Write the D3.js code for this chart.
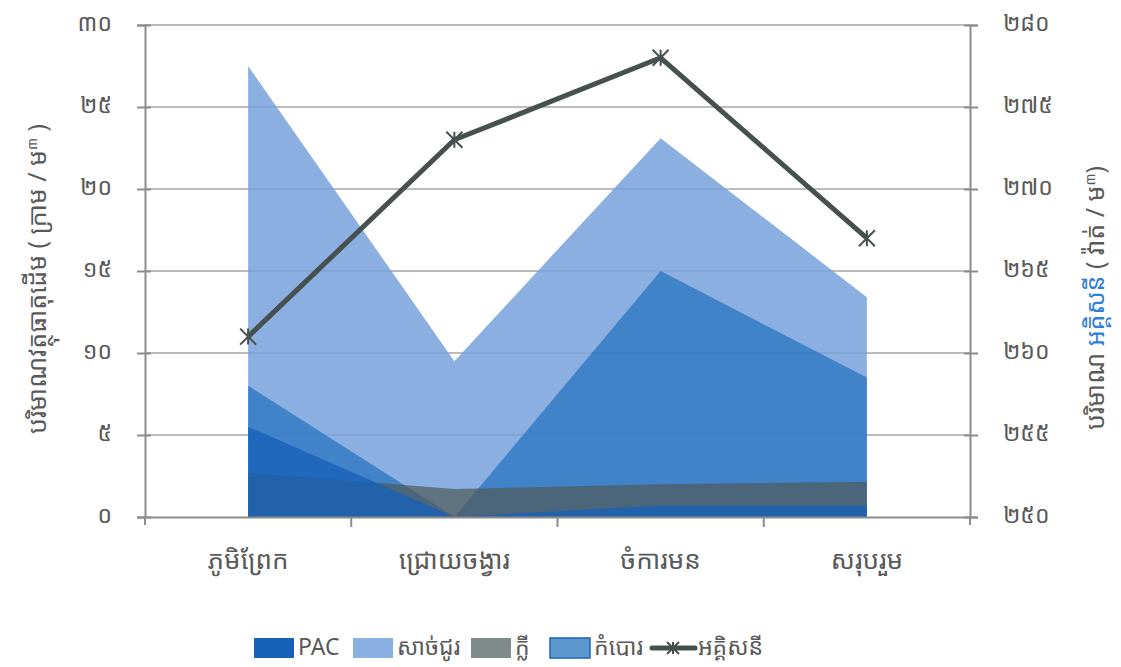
<!DOCTYPE html>
<html>
<head>
<meta charset="utf-8">
<script src="https://cdn.jsdelivr.net/npm/d3@7"></script>
<style>
  body { margin: 0; background: #fff; }
  svg text { font-family: "Noto Sans Khmer", "Khmer OS System", "Noto Sans", sans-serif; fill: #595959; }
</style>
</head>
<body>
<div id="chart"></div>
<script>
const categories = ['ភូមិព្រែក', 'ជ្រោយចង្វារ', 'ចំការមន', 'សរុបរួម']
const pac = [5.5, 0, 0.7, 0.7]
const sachjur = [27.5, 9.5, 23.1, 13.4]
const kley = [2.7, 1.7, 2.0, 2.15]
const kambor = [8.0, 0, 15.0, 8.5]
const electricity = [261, 273, 278, 267]
const leftTicks = [0, 5, 10, 15, 20, 25, 30]
const rightTicks = [250, 255, 260, 265, 270, 275, 280]

const width = 1121
const height = 667
const m = {left: 145, right: 970, top: 25, bottom: 517}

const khmerDigits = '០១២៣៤៥៦៧៨៩'
const toKhmer = n => String(n).replace(/[0-9]/g, d => khmerDigits[+d])

const svg = d3.select('#chart')
    .append('svg')
    .attr('width', width)
    .attr('height', height)

const x = d3.scaleBand()
    .domain(categories)
    .range([m.left, m.right])

const y = d3.scaleLinear()
    .domain([0, 30])
    .range([m.bottom, m.top])

const y2 = d3.scaleLinear()
    .domain([250, 280])
    .range([m.bottom, m.top])

const cx = d => x(d) + x.bandwidth() / 2

// gridlines
svg.append('g')
    .selectAll('line')
    .data(leftTicks.slice(1))
    .enter()
    .append('line')
    .attr('x1', m.left)
    .attr('x2', m.right)
    .attr('y1', d => y(d))
    .attr('y2', d => y(d))
    .attr('stroke', '#a6a6a6')
    .attr('stroke-width', 1.5)

// areas, back to front
const series = [
    {name: 'សាច់ជូរ', values: sachjur, fill: 'rgb(118,161,219)', opacity: 0.85},
    {name: 'កំបោរ', values: kambor, fill: 'rgb(40,116,192)', opacity: 0.75},
    {name: 'ក្លី', values: kley, fill: 'rgb(79,92,92)', opacity: 0.72},
    {name: 'PAC', values: pac, fill: 'rgb(22,98,184)', opacity: 0.8}
]

const area = d3.area()
    .x((d, i) => cx(categories[i]))
    .y0(y(0))
    .y1(d => y(d))

svg.append('g')
    .selectAll('path')
    .data(series)
    .enter()
    .append('path')
    .attr('d', d => area(d.values))
    .attr('fill', d => d.fill)
    .attr('fill-opacity', d => d.opacity)

// axes
const leftAxis = svg.append('g')
    .attr('transform', `translate(${m.left},0)`)
    .call(d3.axisLeft(y).tickValues(leftTicks).tickFormat(toKhmer).tickSizeOuter(0).tickSize(8))
const rightAxis = svg.append('g')
    .attr('transform', `translate(${m.right},0)`)
    .call(d3.axisRight(y2).tickValues(rightTicks).tickFormat(toKhmer).tickSizeOuter(0).tickSize(8))
const bottomAxis = svg.append('g')
    .attr('transform', `translate(0,${m.bottom})`)
    .call(d3.axisBottom(x).tickSize(0).tickSizeOuter(0))

;[leftAxis, rightAxis, bottomAxis].forEach(g => {
    g.select('.domain').attr('stroke', '#8c8c8c').attr('stroke-width', 2)
    g.selectAll('.tick line').attr('stroke', '#8c8c8c').attr('stroke-width', 2)
    g.selectAll('text').attr('fill', '#595959').style('font-size', '23px')
})
leftAxis.selectAll('.tick line').attr('x1', 6)
leftAxis.selectAll('.tick text').attr('x', -33).attr('dy', '0.25em')
rightAxis.selectAll('.tick line').attr('x1', -6)
rightAxis.selectAll('.tick text').attr('x', 33).attr('dy', '0.25em')
bottomAxis.selectAll('.tick text').attr('dy', 0).attr('y', 52).style('font-size', '26px')

// category boundary ticks on the bottom axis
svg.append('g')
    .selectAll('line')
    .data(categories.slice(1))
    .enter()
    .append('line')
    .attr('x1', d => x(d))
    .attr('x2', d => x(d))
    .attr('y1', m.bottom)
    .attr('y2', m.bottom + 10)
    .attr('stroke', '#8c8c8c')
    .attr('stroke-width', 2)
svg.append('g')
    .selectAll('line')
    .data([m.left, m.right])
    .enter()
    .append('line')
    .attr('x1', d => d)
    .attr('x2', d => d)
    .attr('y1', m.bottom)
    .attr('y2', m.bottom + 8)
    .attr('stroke', '#8c8c8c')
    .attr('stroke-width', 2)

// electricity line
const lineColor = '#45504f'
const line = d3.line()
    .x((d, i) => cx(categories[i]))
    .y(d => y2(d))

svg.append('path')
    .datum(electricity)
    .attr('d', line)
    .attr('fill', 'none')
    .attr('stroke', lineColor)
    .attr('stroke-width', 5)
    .attr('stroke-linejoin', 'round')

function asterisk (g, r) {
    g.append('path')
        .attr('d', `M${-r},${-r}L${r},${r}M${-r},${r}L${r},${-r}M0,${-r}L0,${r}`)
        .attr('stroke', lineColor)
        .attr('stroke-width', 2)
        .attr('fill', 'none')
}

svg.append('g')
    .selectAll('g')
    .data(electricity)
    .enter()
    .append('g')
    .attr('transform', (d, i) => `translate(${cx(categories[i])},${y2(d)})`)
    .each(function () { asterisk(d3.select(this), 8) })

// axis titles
const leftTitle = svg.append('text')
    .attr('transform', `translate(46,${(m.top + m.bottom) / 2 + 8}) rotate(-90)`)
    .attr('text-anchor', 'middle')
    .style('font-size', '25px')
leftTitle.append('tspan').text('បរិមាណវត្ថុធាតុដើម ( ក្រាម / ម')
leftTitle.append('tspan').attr('dy', -9).style('font-size', '14px').text('៣')
leftTitle.append('tspan').attr('dy', 9).text(' )')

const rightTitle = svg.append('text')
    .attr('transform', `translate(1104,298) rotate(-90)`)
    .attr('text-anchor', 'middle')
    .style('font-size', '25px')
rightTitle.append('tspan').text('បរិមាណ ')
rightTitle.append('tspan').style('fill', '#2f7fd8').text('អគ្គិសនី')
rightTitle.append('tspan').text(' ( វ៉ាត់ / ម')
rightTitle.append('tspan').attr('dy', -9).style('font-size', '14px').text('៣')
rightTitle.append('tspan').attr('dy', 9).text(')')

// legend
const legendItems = [
    {name: 'PAC', x: 254, fill: 'rgb(22,98,184)'},
    {name: 'សាច់ជូរ', x: 353, fill: '#8ab0e2'},
    {name: 'ក្លី', x: 471, fill: '#808a8a'},
    {name: 'កំបោរ', x: 550, fill: '#5e97d0', stroke: '#1a67b7'}
]
const legendY = 648
const lg = svg.append('g')
legendItems.forEach(it => {
    lg.append('rect')
        .attr('x', it.x)
        .attr('y', legendY - 10)
        .attr('width', 40)
        .attr('height', 20)
        .attr('fill', it.fill)
        .attr('stroke', it.stroke || 'none')
        .attr('stroke-width', 1.5)
    lg.append('text')
        .attr('x', it.x + 44)
        .attr('y', legendY)
        .attr('dy', '0.3em')
        .style('font-size', '23px')
        .text(it.name)
})
lg.append('line')
    .attr('x1', 652)
    .attr('x2', 695)
    .attr('y1', legendY)
    .attr('y2', legendY)
    .attr('stroke', lineColor)
    .attr('stroke-width', 5)
    .attr('stroke-linecap', 'round')
asterisk(lg.append('g').attr('transform', `translate(673,${legendY})`), 6)
lg.append('text')
    .attr('x', 698)
    .attr('y', legendY)
    .attr('dy', '0.3em')
    .style('font-size', '23px')
    .text('អគ្គិសនី')
</script>
</body>
</html>
